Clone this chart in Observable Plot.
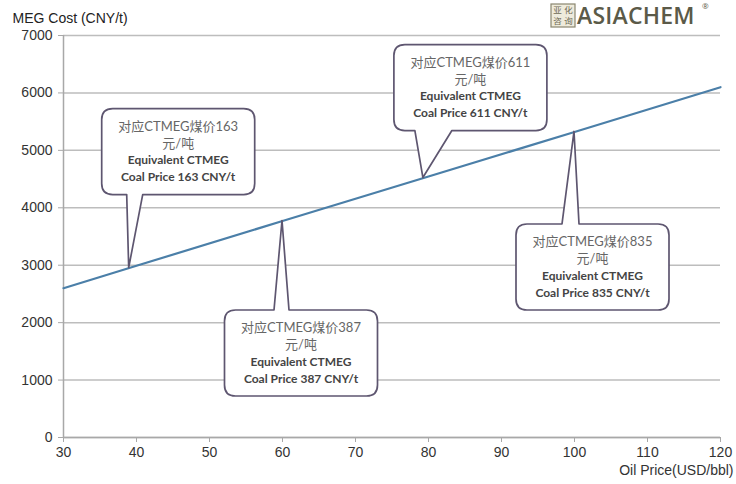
<!DOCTYPE html>
<html>
<head>
<meta charset="utf-8">
<script src="https://cdn.jsdelivr.net/npm/d3@7"></script>
<script src="https://cdn.jsdelivr.net/npm/@observablehq/plot@0.6"></script>
<style>
  html, body { margin: 0; padding: 0; background: #fff; }
  #chart { width: 736px; height: 484px; }
</style>
</head>
<body>
<div id="chart"></div>
<script>
// ---- data ----
const oilPrice = [30, 40, 60, 80, 100, 120];
const megCost  = [2600, 2990, 3770, 4545, 5320, 6100];
const xTicks = [30, 40, 50, 60, 70, 80, 90, 100, 110, 120];
const yTicks = [0, 1000, 2000, 3000, 4000, 5000, 6000, 7000];
const calloutOil = [39, 60, 79.3, 100];
const calloutMeg = [2950, 3770, 4518, 5320];
const coalPrice  = [163, 387, 611, 835];

const yTitle = "MEG Cost (CNY/t)";
const xTitle = "Oil Price(USD/bbl)";

// ---- layout (pixel offsets of each bubble relative to its tip) ----
const bubbleLayout = [
  {cx: 49.5, cy: -116, b1: -2,  b2: 14},
  {cx: 19,   cy: 132.5, b1: -8, b2: 7},
  {cx: 47.5, cy: -90,  b1: -8,  b2: 29},
  {cx: 18.5, cy: 135.5, b1: -12, b2: 5}
];
const BW = 153, BH = 86, R = 11;

const lineData = oilPrice.map((o, i) => ({oil: o, meg: megCost[i]}));

function bubblePath(l, t, r, b, p1, p2, tx, ty, top) {
  if (top) {
    return `M${l+R},${t} L${p1},${t} L${tx},${ty} L${p2},${t} L${r-R},${t} Q${r},${t} ${r},${t+R} ` +
           `L${r},${b-R} Q${r},${b} ${r-R},${b} L${l+R},${b} Q${l},${b} ${l},${b-R} L${l},${t+R} Q${l},${t} ${l+R},${t} Z`;
  }
  return `M${l+R},${t} L${r-R},${t} Q${r},${t} ${r},${t+R} L${r},${b-R} Q${r},${b} ${r-R},${b} ` +
         `L${p2},${b} L${tx},${ty} L${p1},${b} L${l+R},${b} Q${l},${b} ${l},${b-R} L${l},${t+R} Q${l},${t} ${l+R},${t} Z`;
}

function callouts(index, scales) {
  const g = d3.create("svg:g");
  calloutOil.forEach((o, i) => {
    const tx = scales.x(o), ty = scales.y(calloutMeg[i]);
    const L = bubbleLayout[i];
    const cx = tx + L.cx, cy = ty + L.cy;
    const l = cx - BW / 2, r = cx + BW / 2, t = cy - BH / 2, b = cy + BH / 2;
    const top = L.cy > 0;
    g.append("path")
      .attr("d", bubblePath(l, t, r, b, tx + L.b1, tx + L.b2, tx, ty, top))
      .attr("fill", "#fff")
      .attr("stroke", "#5e5670")
      .attr("stroke-width", 1.7)
      .attr("stroke-linejoin", "round");
    const lines = [`对应CTMEG煤价${coalPrice[i]}`, "元/吨", "Equivalent CTMEG", `Coal Price ${coalPrice[i]} CNY/t`];
    lines.forEach((s, k) => {
      const cjk = k < 2;
      g.append("text")
        .attr("x", cx)
        .attr("y", cy + (k - 1.5) * 17)
        .attr("dy", "0.35em")
        .attr("text-anchor", "middle")
        .attr("font-family", cjk ? "Lato, 'Noto Sans CJK SC', sans-serif" : "Lato, 'Open Sans', sans-serif")
        .attr("font-size", cjk ? 13 : 12)
        .attr("font-weight", cjk ? 400 : 700)
        .attr("fill", cjk ? "#666" : "#444")
        .text(s);
    });
  });
  return g.node();
}

function logo() {
  const g = d3.create("svg:g").attr("text-anchor", "start");
  const x0 = 551, y0 = 4;
  g.append("rect").attr("x", x0).attr("y", y0).attr("width", 24).attr("height", 23)
    .attr("fill", "#eeebdc").attr("stroke", "#8a866f").attr("stroke-width", 1.2);
  const seal = ["亚", "化", "咨", "询"];
  seal.forEach((c, k) => {
    g.append("text")
      .attr("x", x0 + 6.5 + (k % 2) * 11)
      .attr("y", y0 + 6.5 + Math.floor(k / 2) * 11)
      .attr("dy", "0.35em").attr("text-anchor", "middle")
      .attr("font-family", "'Noto Sans CJK SC', sans-serif")
      .attr("font-size", 8.5).attr("fill", "#6e6a55").text(c);
  });
  g.append("text")
    .attr("x", x0 + 26).attr("y", 16).attr("dy", "0.35em")
    .attr("font-family", "'Open Sans', 'Noto Sans', sans-serif")
    .attr("font-size", 23).attr("font-weight", 600).attr("fill", "#5b5a48")
    .attr("letter-spacing", 0.2)
    .text("ASIACHEM");
  g.append("text")
    .attr("x", x0 + 151).attr("y", 9)
    .attr("font-family", "'Open Sans', sans-serif")
    .attr("font-size", 8).attr("fill", "#5b5a48").text("®");
  return g.node();
}

const chart = Plot.plot({
  width: 736,
  height: 484,
  marginLeft: 63,
  marginRight: 16,
  marginTop: 35,
  marginBottom: 47,
  style: {fontFamily: "'Liberation Sans', Arial, sans-serif", fontSize: "14px", color: "#333", background: "#fff"},
  x: {domain: [30, 120], label: null},
  y: {domain: [0, 7000], label: null},
  marks: [
    Plot.gridY(yTicks, {stroke: "#bdbdbd", strokeOpacity: 1, strokeWidth: 1.5}),
    Plot.ruleX([30], {stroke: "#a8a8a8", strokeWidth: 1.5}),
    Plot.ruleY([0], {stroke: "#a8a8a8", strokeWidth: 1.5}),
    Plot.axisY({ticks: yTicks, tickSize: 5, tickPadding: 6, stroke: "#a8a8a8", fill: "#333", fontSize: 14, tickFormat: d => String(d), label: null}),
    Plot.axisX({ticks: xTicks, tickSize: 5, tickPadding: 5, stroke: "#a8a8a8", fill: "#333", fontSize: 14, tickFormat: d => String(d), label: null}),
    Plot.line(lineData, {x: "oil", y: "meg", stroke: "#4b7fa8", strokeWidth: 2.2}),
    callouts,
    Plot.text([yTitle], {frameAnchor: "top-left", dx: -51, dy: -22, textAnchor: "start", fontSize: 14, fill: "#222"}),
    Plot.text([xTitle], {frameAnchor: "bottom-right", dx: 13, dy: 37, textAnchor: "end", fontSize: 14, fill: "#333"}),
    logo
  ]
});
document.getElementById("chart").appendChild(chart);
</script>
</body>
</html>
